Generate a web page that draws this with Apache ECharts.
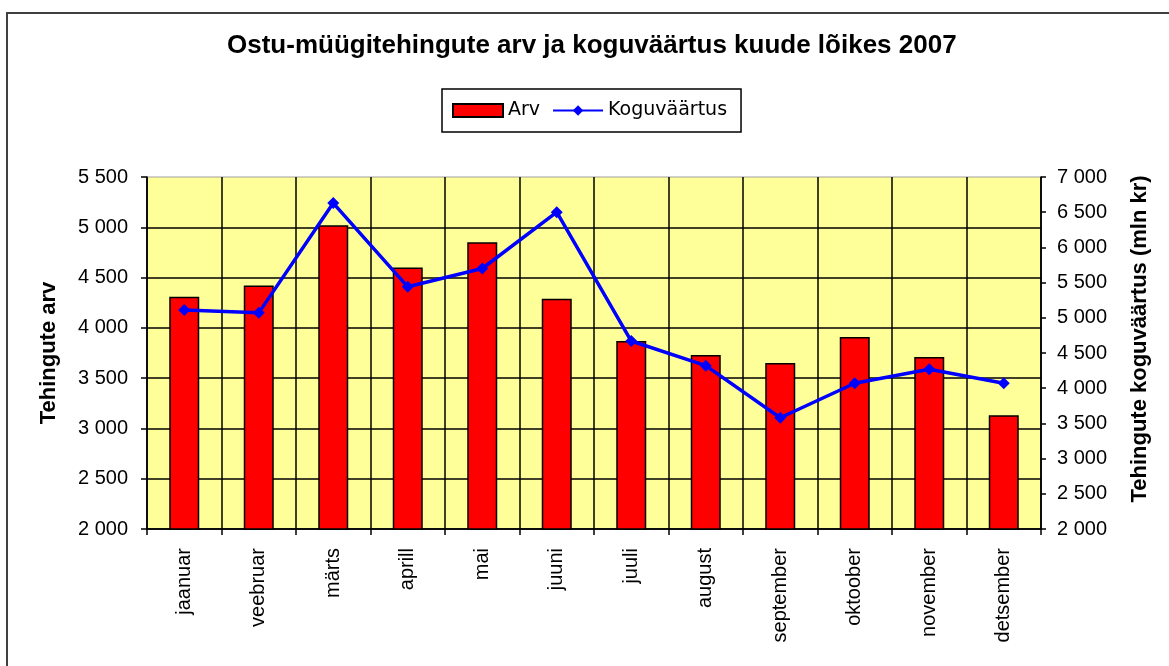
<!DOCTYPE html>
<html>
<head>
<meta charset="utf-8">
<script src="https://cdn.jsdelivr.net/npm/echarts@6/dist/echarts.min.js"></script>
<style>
html,body{margin:0;padding:0;background:#fff;}
#chart_div{width:1169px;height:666px;}
</style>
</head>
<body>
<div id="chart_div"></div>
<script>
// kuud
var months = ['jaanuar','veebruar','märts','aprill','mai','juuni','juuli','august','september','oktoober','november','detsember'];
// tehingute arv (vasak telg)
var arv = [4310, 4420, 5020, 4600, 4850, 4290, 3870, 3730, 3650, 3910, 3710, 3130];
// koguväärtus mln kr (parem telg)
var koguvaartus = [5110, 5070, 6630, 5440, 5700, 6500, 4670, 4320, 3580, 4070, 4270, 4070];

var labelFont = 'Liberation Sans, Arial, sans-serif';

//tuhandete eraldaja tühikuga
function fmtNum(v){
	var s = String(v);
	if(s.length > 3){
		s = s.substring(0, s.length - 3) + ' ' + s.substring(s.length - 3);
	}
	return s;
}

var myChart = echarts.init(document.getElementById('chart_div'), null, {renderer:'canvas'});
var option = {
	backgroundColor : '#ffffff',
	animation : false,
	title : {
		text : 'Ostu-müügitehingute arv ja koguväärtus kuude lõikes 2007',
		left : 222,
		top : 28,
		textStyle : {
			fontFamily : labelFont,
			fontSize : 26,
			fontWeight : 'bold',
			color : '#000'
		}
	},
	legend : {
		left : 442,
		top : 89,
		padding : [12, 14, 12, 10],
		borderColor : '#000',
		borderWidth : 1.5,
		itemGap : 12,
		itemWidth : 50,
		itemHeight : 13,
		textStyle : {
			fontFamily : 'DejaVu Sans, sans-serif',
			fontSize : 19,
			color : '#000'
		},
		data : [
			{name:'Arv', icon:'rect'},
			{name:'Koguväärtus'}
		]
	},
	graphic : [
		{
			type : 'rect',
			shape : {x:7, y:13, width:1300, height:800},
			style : {fill:'none', stroke:'#404040', lineWidth:2},
			silent : true
		}
	],
	grid : {
		left : 147,
		top : 177,
		width : 894,
		height : 352,
		show : true,
		backgroundColor : '#FFFF99',
		borderColor : '#a0a0a0',
		borderWidth : 1
	},
	xAxis : {
		type : 'category',
		data : months,
		boundaryGap : true,
		axisLine : {lineStyle:{color:'#000', width:1.5}},
		axisTick : {show:true, length:6, lineStyle:{color:'#000', width:1.5}},
		splitLine : {show:true, lineStyle:{color:'#000', width:1.5}},
		axisLabel : {
			rotate : 90,
			margin : 19,
			interval : 0,
			fontFamily : labelFont,
			fontSize : 20,
			color : '#000'
		}
	},
	yAxis : [
		{
			type : 'value',
			min : 2000,
			max : 5500,
			interval : 500,
			position : 'left',
			name : 'Tehingute arv',
			nameLocation : 'middle',
			nameRotate : 90,
			nameGap : 87,
			nameTextStyle : {fontFamily:labelFont, fontSize:22, fontWeight:'bold', color:'#000'},
			axisLine : {show:true, lineStyle:{color:'#000', width:1.5}},
			axisTick : {show:true, length:6, lineStyle:{color:'#000', width:1.5}},
			splitLine : {show:true, showMaxLine:false, lineStyle:{color:'#000', width:1.5}},
			axisLabel : {
				margin : 19,
				fontFamily : labelFont,
				fontSize : 20,
				color : '#000',
				formatter : fmtNum
			}
		},
		{
			type : 'value',
			min : 2000,
			max : 7000,
			interval : 500,
			position : 'right',
			name : 'Tehingute koguväärtus (mln kr)',
			nameLocation : 'middle',
			nameRotate : 90,
			nameGap : 88,
			nameTextStyle : {fontFamily:labelFont, fontSize:22, fontWeight:'bold', color:'#000', padding:[0,0,0,28]},
			axisLine : {show:true, lineStyle:{color:'#000', width:1.5}},
			axisTick : {show:true, length:5, lineStyle:{color:'#000', width:1.5}},
			splitLine : {show:false},
			axisLabel : {
				margin : 16,
				fontFamily : labelFont,
				fontSize : 20,
				color : '#000',
				formatter : fmtNum
			}
		}
	],
	series : [
		{
			name : 'Arv',
			type : 'bar',
			yAxisIndex : 0,
			barWidth : 30,
			itemStyle : {color:'#FF0000', borderColor:'#000', borderWidth:1.5},
			data : arv
		},
		{
			name : 'Koguväärtus',
			type : 'line',
			yAxisIndex : 1,
			symbol : 'diamond',
			symbolSize : 12,
			lineStyle : {color:'#0000FF', width:3.5},
			itemStyle : {color:'#0000FF'},
			data : koguvaartus
		}
	]
};
myChart.setOption(option);
</script>
</body>
</html>
